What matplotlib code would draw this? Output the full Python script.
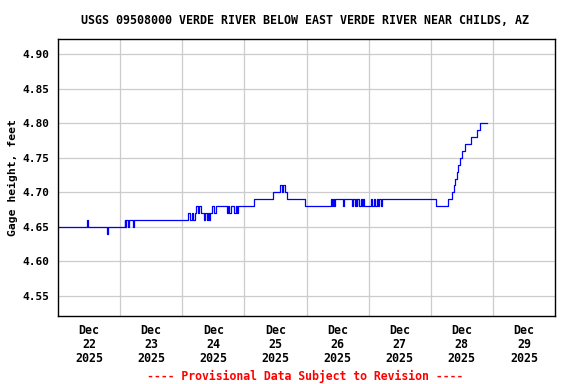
import matplotlib
matplotlib.use("Agg")
import matplotlib.pyplot as plt
import pandas as pd

# Gage height breakpoints: hours after 2025-12-22 00:00 and value (step held until next point)
hours = [0.0, 11.3, 11.7, 18.9, 19.2, 25.7, 26.0, 26.4, 27.1, 27.5, 28.8, 29.4,
         50.4, 50.9, 51.7, 52.3, 53.0, 53.4, 54.2, 54.6, 55.4, 56.3, 56.9, 57.5,
         57.9, 58.5, 58.8, 59.4, 60.4, 61.2, 65.2, 65.6, 66.0, 67.0, 68.1, 68.7,
         69.1, 69.7, 75.7, 83.0, 85.7, 86.6, 86.8, 87.6, 88.5, 95.3,
         105.3, 105.7, 106.3, 106.7, 107.0, 110.0, 110.3, 113.7, 114.0, 114.6,
         115.0, 115.4, 115.7, 116.3, 116.9, 117.3, 117.8, 118.3, 120.8, 121.3,
         121.9, 122.5, 123.1, 123.5, 124.1, 124.6, 125.3, 146.2, 150.6,
         152.3, 152.9, 153.5, 154.1, 154.6, 155.3, 156.2, 157.3, 159.5, 161.8,
         163.0, 165.9]
gage = [4.65, 4.66, 4.65, 4.64, 4.65, 4.66, 4.65, 4.66, 4.65, 4.66, 4.65, 4.66,
        4.67, 4.66, 4.67, 4.66, 4.67, 4.68, 4.67, 4.68, 4.67, 4.66, 4.67, 4.66,
        4.67, 4.66, 4.67, 4.68, 4.67, 4.68, 4.67, 4.68, 4.67, 4.68, 4.67, 4.68,
        4.67, 4.68, 4.69, 4.70, 4.71, 4.70, 4.71, 4.70, 4.69, 4.68,
        4.69, 4.68, 4.69, 4.68, 4.69, 4.68, 4.69, 4.68, 4.69, 4.68,
        4.69, 4.68, 4.69, 4.68, 4.69, 4.68, 4.69, 4.68, 4.69, 4.68,
        4.69, 4.68, 4.69, 4.68, 4.69, 4.68, 4.69, 4.68, 4.69,
        4.70, 4.71, 4.72, 4.73, 4.74, 4.75, 4.76, 4.77, 4.78, 4.79,
        4.80, 4.80]

day_labels = ["Dec\n22\n2025", "Dec\n23\n2025", "Dec\n24\n2025", "Dec\n25\n2025",
              "Dec\n26\n2025", "Dec\n27\n2025", "Dec\n28\n2025", "Dec\n29\n2025"]
y_ticks = [4.55, 4.60, 4.65, 4.70, 4.75, 4.80, 4.85, 4.90]

start = pd.Timestamp("2025-12-22")
times = start + pd.to_timedelta(hours, unit="h")

plt.rcParams["font.family"] = "DejaVu Sans Mono"
plt.rcParams["font.weight"] = "bold"

fig = plt.figure(figsize=(5.76, 3.84), dpi=100)
ax = fig.add_axes([58 / 576, 1 - 316 / 384, 497 / 576, 277 / 384])

ax.plot(times, gage, color="#0000ff", linewidth=0.9, drawstyle="steps-post")

ax.set_xlim(start, start + pd.Timedelta(days=8))
ax.set_ylim(4.521, 4.922)

# grid at midnights, labels at noon
midnights = [start + pd.Timedelta(days=i) for i in range(1, 8)]
for m in midnights:
    ax.axvline(m, color="#cccccc", linewidth=0.9, zorder=0)
for v in y_ticks:
    ax.axhline(v, color="#cccccc", linewidth=0.9, zorder=0)

noons = [start + pd.Timedelta(days=i, hours=12) for i in range(8)]
ax.set_xticks(noons)
ax.set_xticklabels(day_labels, fontsize=8.4, fontweight="bold", linespacing=1.1)
ax.set_yticks(y_ticks)
ax.set_yticklabels([f"{v:.2f}" for v in y_ticks], fontsize=8, fontweight="bold")
ax.tick_params(axis="both", length=0)
ax.tick_params(axis="x", pad=6)
ax.tick_params(axis="y", pad=6)

for s in ax.spines.values():
    s.set_linewidth(1)
    s.set_color("black")

ax.set_ylabel("Gage height, feet", fontsize=8.2, fontweight="bold", labelpad=3)
fig.text(305 / 576, 1 - 20 / 384, "USGS 09508000 VERDE RIVER BELOW EAST VERDE RIVER NEAR CHILDS, AZ",
         ha="center", va="center", fontsize=8.4, fontweight="bold")
fig.text(305 / 576, 1 - 376 / 384, "---- Provisional Data Subject to Revision ----",
         ha="center", va="center", fontsize=8.3, fontweight="bold", color="red")

fig.savefig("out.png", dpi=100)
